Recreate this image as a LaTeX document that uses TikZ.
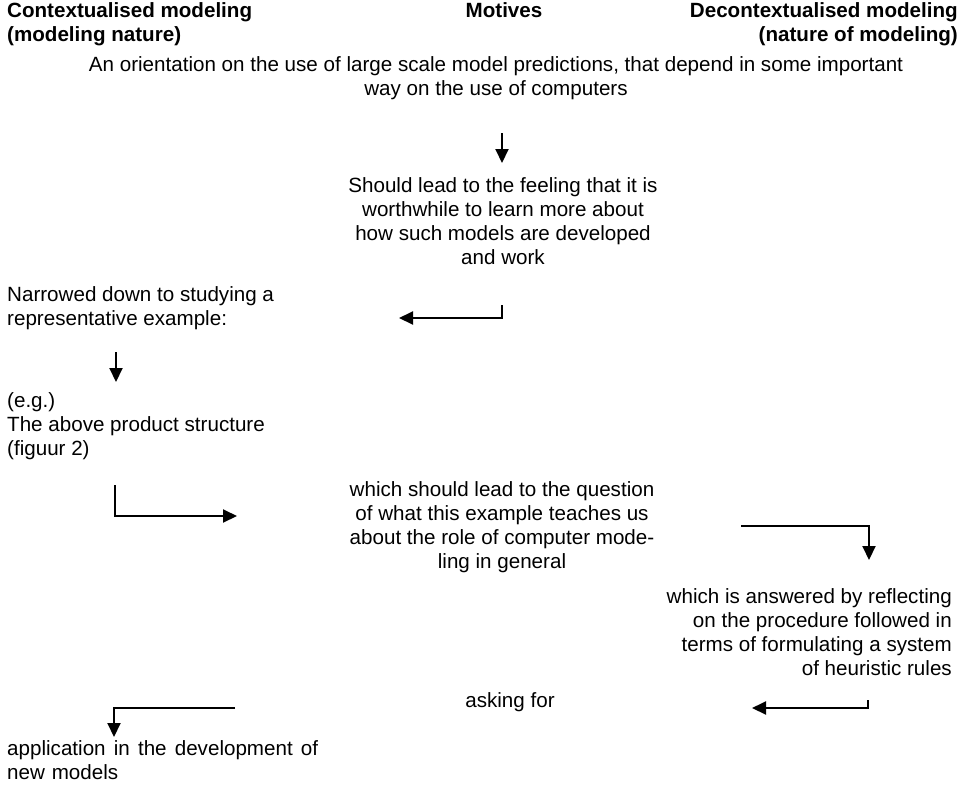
\documentclass[tikz,border=0pt]{standalone}
\usepackage{fontspec}
\setmainfont{Liberation Sans}
\usetikzlibrary{arrows.meta}
\begin{document}
\begin{tikzpicture}[x=1pt,y=-1pt,
  txt/.style={inner sep=0pt, font=\fontsize{20.6}{24}\selectfont},
  hdr/.style={inner sep=0pt, font=\fontsize{20.6}{24}\selectfont\bfseries},
  arr/.style={line width=2pt, -{Triangle[length=14pt,width=13pt]}}]
\useasboundingbox[fill=white] (0,0) rectangle (964,793);
% headers
\node[hdr, anchor=north west, align=left] (hl) at (7,2) {Contextualised modeling\\(modeling nature)};
\node[hdr, anchor=north] (hm) at (504,2) {Motives};
\node[hdr, anchor=north east, align=right] (hr) at (958,2) {Decontextualised modeling\\(nature of modeling)};
% texts
\node[txt, anchor=north, align=center] (orient) at (496,56) {An orientation on the use of large scale model predictions, that depend in some important\\way on the use of computers};
\node[txt, anchor=north, align=center] (should) at (503,177) {Should lead to the feeling that it is\\worthwhile to learn more about\\how such models are developed\\and work};
\node[txt, anchor=north west, align=left] (narrow) at (7,286) {Narrowed down to studying a\\representative example:};
\node[txt, anchor=north west, align=left] (eg) at (7,392) {(e.g.)\\The above product structure\\(figuur 2)};
\node[txt, anchor=north, align=center] (question) at (502,481) {which should lead to the question\\of what this example teaches us\\about the role of computer mode-\\ling in general};
\node[txt, anchor=north east, align=right] (answer) at (952,588) {which is answered by reflecting\\on the procedure followed in\\terms of formulating a system\\of heuristic rules};
\node[txt, anchor=north] (asking) at (510,692) {asking for};
\node[txt, anchor=north west, text width=311pt, align=left] (appl) at (7,740) {application\hfill in\hfill the\hfill development\hfill of\\new models};
% arrow coordinates
\coordinate (a1s) at (502,133); \coordinate (a1e) at (502,163);
\coordinate (a2s) at (502,305); \coordinate (a2c) at (502,318); \coordinate (a2e) at (399,318);
\coordinate (a3s) at (116,352); \coordinate (a3e) at (116,382);
\coordinate (a4s) at (115,485); \coordinate (a4c) at (115,516); \coordinate (a4e) at (237,516);
\coordinate (a5s) at (741,526); \coordinate (a5c) at (869,526); \coordinate (a5e) at (869,560);
\coordinate (a6s) at (868,700); \coordinate (a6c) at (868,708); \coordinate (a6e) at (752,708);
\coordinate (a7s) at (235,708); \coordinate (a7c) at (114,708); \coordinate (a7e) at (114,737);
% arrows
\draw[arr] (a1s) -- (a1e);
\draw[arr] (a2s) -- (a2c) -- (a2e);
\draw[arr] (a3s) -- (a3e);
\draw[arr] (a4s) -- (a4c) -- (a4e);
\draw[arr] (a5s) -- (a5c) -- (a5e);
\draw[arr] (a6s) -- (a6c) -- (a6e);
\draw[arr] (a7s) -- (a7c) -- (a7e);
\end{tikzpicture}
\end{document}
